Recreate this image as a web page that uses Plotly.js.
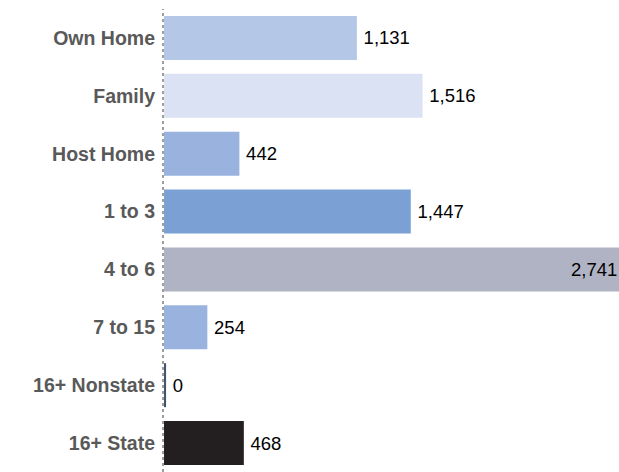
<!DOCTYPE html>
<html>
<head>
<meta charset="utf-8">
<script src="https://cdn.plot.ly/plotly-3.0.1.min.js"></script>
<style>html,body{margin:0;padding:0;overflow:hidden;background:#fff}</style>
</head>
<body>
<div id="chart" style="width:619px;height:472px"></div>
<script>
const categories = ["Own Home", "Family", "Host Home", "1 to 3", "4 to 6", "7 to 15", "16+ Nonstate", "16+ State"];
const values = [1131, 1516, 442, 1447, 2741, 254, 0, 468];
const barColors = ["#b4c7e7", "#dae2f3", "#99b3de", "#7ba1d4", "#b0b3c3", "#99b3de", "#44546a", "#231f20"];

const xMin = -6, xMax = 2668;
const minVisible = 12; // keep zero-length bar visible as a hairline
const plotted = values.map(v => Math.max(v, minVisible));
const fmt = v => v.toLocaleString("en-US");
const labels = values.map(v => v > xMax ? "" : "\u2009" + fmt(v));
const positions = values.map(v => v > xMax ? "none" : "outside");
const valueFont = {family: "Liberation Sans, Arial, sans-serif", size: 18.5, color: "#000"};

const trace = {
  type: "bar",
  orientation: "h",
  y: categories,
  x: plotted,
  text: labels,
  textposition: positions,
  textfont: valueFont,
  outsidetextfont: valueFont,
  constraintext: "none",
  cliponaxis: false,
  marker: {color: barColors, line: {width: 0}},
  hoverinfo: "none"
};

// labels for bars that run past the visible range: pinned to the right edge
const overflowAnnotations = values
  .map((v, i) => ({v, i}))
  .filter(d => d.v > xMax)
  .map(d => ({
    xref: "paper", yref: "y", x: 1, y: categories[d.i],
    xanchor: "right", yanchor: "middle", showarrow: false,
    text: fmt(d.v), font: valueFont
  }));

const layout = {
  width: 619, height: 472,
  margin: {l: 163, r: 0, t: 9, b: 0, pad: 0},
  paper_bgcolor: "#fff", plot_bgcolor: "#fff",
  showlegend: false,
  bargap: 0.24,
  xaxis: {range: [xMin, xMax], visible: false, showgrid: false, zeroline: false},
  yaxis: {
    type: "category", autorange: "reversed",
    showgrid: false, zeroline: false, showline: false, ticks: "",
    ticklabelstandoff: 7,
    tickfont: {family: "Liberation Sans, Arial, sans-serif", size: 19.5, color: "#595959", weight: "bold"}
  },
  annotations: overflowAnnotations,
  shapes: [{
    type: "line", xref: "paper", yref: "paper", x0: 0, x1: 0, y0: 0, y1: 1.0,
    line: {color: "#7f7f7f", width: 1.5, dash: "dot"}, layer: "above"
  }]
};

Plotly.newPlot("chart", [trace], layout, {displayModeBar: false, staticPlot: true});
</script>
</body>
</html>
